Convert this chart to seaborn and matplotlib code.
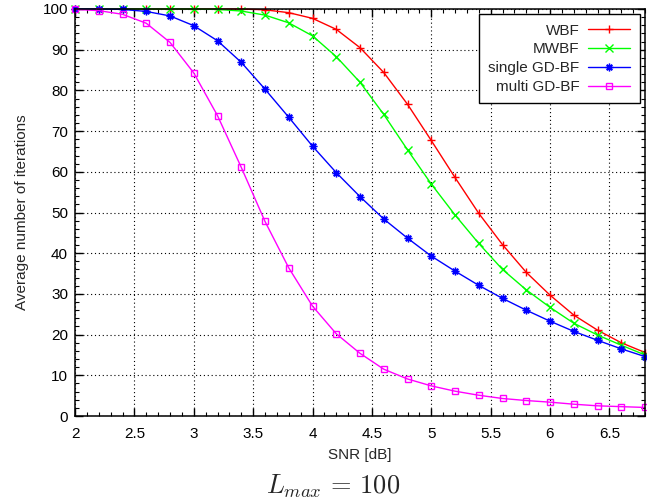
import numpy as np
import pandas as pd
import matplotlib
matplotlib.use("Agg")
import matplotlib.pyplot as plt
import matplotlib.ticker as mticker
import seaborn as sns

# SNR grid [dB]
snr = [2.0, 2.2, 2.4, 2.6, 2.8, 3.0, 3.2, 3.4, 3.6, 3.8, 4.0, 4.2, 4.4,
       4.6, 4.8, 5.0, 5.2, 5.4, 5.6, 5.8, 6.0, 6.2, 6.4, 6.6, 6.8]

# average number of iterations
wbf = [100, 100, 100, 100, 100, 100, 100, 100, 99.8, 99.1, 97.7, 95.0, 90.5,
       84.4, 76.6, 67.7, 58.6, 49.8, 42.1, 35.3, 29.7, 24.8, 21.1, 18.0, 15.6]
mwbf = [100, 100, 100, 100, 100, 100, 99.9, 99.5, 98.5, 96.6, 93.4, 88.3, 82.0,
        74.1, 65.4, 57.0, 49.4, 42.4, 36.0, 31.0, 26.7, 22.8, 19.9, 17.4, 15.0]
single_gd = [100, 100, 99.9, 99.4, 98.3, 95.9, 92.2, 86.9, 80.3, 73.4, 66.3, 59.8, 53.9,
             48.4, 43.7, 39.3, 35.6, 32.1, 28.9, 26.0, 23.3, 20.8, 18.6, 16.5, 14.6]
multi_gd = [99.9, 99.6, 98.7, 96.5, 91.8, 84.3, 73.8, 61.1, 47.8, 36.4, 27.0, 20.2, 15.4,
            11.5, 9.1, 7.4, 6.1, 5.1, 4.3, 3.8, 3.4, 2.9, 2.5, 2.3, 2.1]

labels = ["WBF", "MWBF", "single GD-BF", "multi GD-BF"]
series = [wbf, mwbf, single_gd, multi_gd]
colors = ["#ff0000", "#00ff00", "#0000ff", "#ff00ff"]
markers = ["+", "x", (8, 2, 0), "s"]

sns.set_style("ticks")
plt.rcParams["font.family"] = ["Liberation Sans", "DejaVu Sans"]
plt.rcParams["mathtext.fontset"] = "cm"

fig = plt.figure(figsize=(6.47, 5.04), dpi=100)
ax = fig.add_axes([75 / 647, 1 - 416 / 504, 570 / 647, 407 / 504])

for lab, vals, col, mk in zip(labels, series, colors, markers):
    df = pd.DataFrame({"snr": snr, "iters": vals})
    kw = dict(markersize=5.5, markeredgewidth=1.0)
    if mk == "s":
        kw.update(markerfacecolor="none", markersize=4.5)
    sns.lineplot(data=df, x="snr", y="iters", ax=ax, color=col, marker=mk,
                 markeredgecolor=col, linewidth=1.0, label=lab, clip_on=False,
                 zorder=3, **kw)

ax.set_xlim(2, 6.8)
ax.set_ylim(0, 100)
ax.xaxis.set_major_locator(mticker.MultipleLocator(0.5))
ax.xaxis.set_minor_locator(mticker.MultipleLocator(0.1))
ax.yaxis.set_major_locator(mticker.MultipleLocator(10))
ax.yaxis.set_minor_locator(mticker.MultipleLocator(2))
ax.xaxis.set_major_formatter(mticker.FormatStrFormatter("%g"))
ax.tick_params(which="both", direction="in", top=True, right=True, labelsize=11, colors="black")
ax.tick_params(which="major", length=6, width=1, pad=5)
ax.tick_params(axis="x", which="major", pad=8)
ax.tick_params(which="minor", length=3, width=0.8)
ax.grid(True, which="major", color="black", linestyle=(0, (1, 2.5)), linewidth=0.8)
for sp in ax.spines.values():
    sp.set_visible(True)
    sp.set_color("black")
    sp.set_linewidth(1.1)
    sp.set_zorder(4)

ax.set_xlabel("SNR [dB]", fontsize=11, labelpad=5)
ax.set_ylabel("Average number of iterations", fontsize=11, labelpad=10)

leg = ax.legend(loc="upper right", markerfirst=False, fancybox=False, framealpha=1,
                edgecolor="black", fontsize=11, handlelength=2.8, borderaxespad=0.35,
                labelspacing=0.32, borderpad=0.6, handletextpad=0.55)
leg.get_frame().set_linewidth(1.0)
leg.set_zorder(5)

fig.text(333 / 647, 1 - 494 / 504, r"$L_{max}\,=\,100$", fontsize=19, ha="center", va="baseline")

fig.savefig("out.png", dpi=100)
